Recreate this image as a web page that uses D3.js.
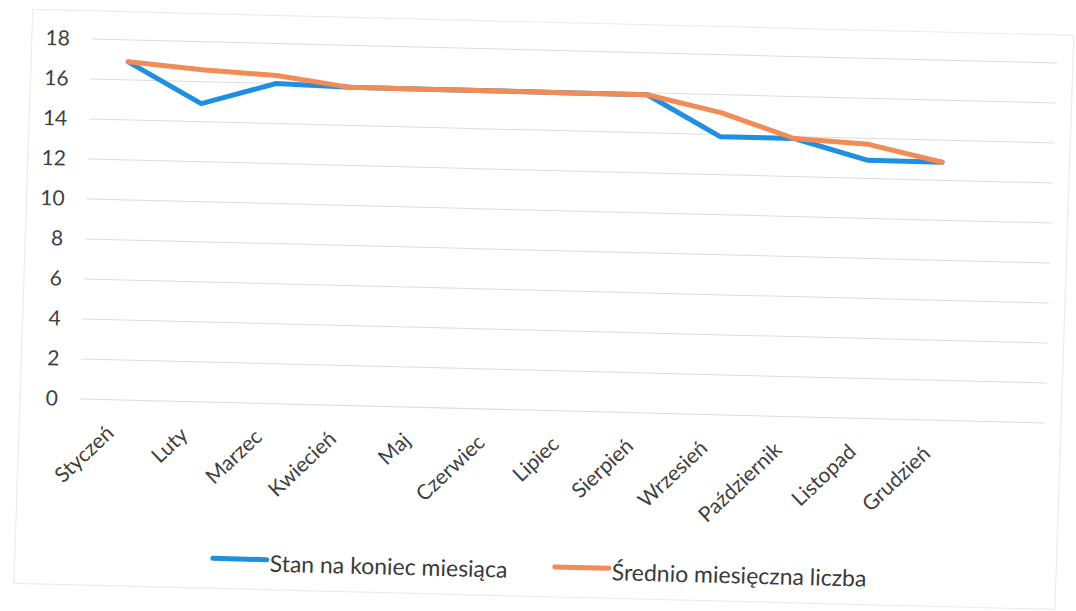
<!DOCTYPE html>
<html>
<head>
<meta charset="utf-8">
<script src="https://cdn.jsdelivr.net/npm/d3@7"></script>
<style>
  html, body { margin: 0; padding: 0; background: #ffffff; }
  svg { display: block; }
  text { font-family: Lato, "Open Sans", sans-serif; }
</style>
</head>
<body>
<svg id="chart" width="1076" height="611"></svg>
<script>
// ---- data ----
const categories = ["Styczeń", "Luty", "Marzec", "Kwiecień", "Maj", "Czerwiec", "Lipiec",
                    "Sierpień", "Wrzesień", "Październik", "Listopad", "Grudzień"];
const stanNaKoniec = [16.9, 14.9, 16.0, 15.9, 15.9, 15.9, 15.9, 15.9, 13.9, 13.9, 12.9, 12.9];
const srednioMiesiecznie = [16.9, 16.6, 16.4, 15.9, 15.9, 15.9, 15.9, 15.9, 15.1, 13.9, 13.7, 12.9];
const yTicks = [0, 2, 4, 6, 8, 10, 12, 14, 16, 18];
const seriesNames = ["Stan na koniec miesiąca", "Średnio miesięczna liczba"];
const seriesColors = ["#1f8fe2", "#f28b55"];

// ---- layout ----
const svg = d3.select("#chart");
const ox = 85, oy = 399;
// the scanned page is slightly skewed; reproduce with an affine transform
const page = svg.append("g")
  .attr("transform", `translate(${ox},${oy}) matrix(1,0.025,-0.033,1,0,0) translate(${-ox},${-oy})`);

// chart frame
page.append("rect")
  .attr("x", 20).attr("y", 11).attr("width", 1041).attr("height", 574)
  .attr("fill", "none").attr("stroke", "#ececec").attr("stroke-width", 1.2);

const x = d3.scaleBand().domain(categories.concat([""])).range([80, 1045]).padding(0);
const y = d3.scaleLinear().domain([0, 18]).range([oy, 39]);
const cx = c => x(c) + x.bandwidth() / 2;

// gridlines
page.append("g").selectAll("line").data(yTicks).join("line")
  .attr("x1", 80).attr("x2", 1045)
  .attr("y1", d => y(d)).attr("y2", d => y(d))
  .attr("stroke", "#dcdcdc").attr("stroke-width", 1);

// y axis labels
const yAxis = d3.axisLeft(y).tickValues(yTicks).tickSize(0).tickPadding(0);
const yg = page.append("g").attr("transform", "translate(58,0)").call(yAxis);
yg.select(".domain").remove();
yg.selectAll("text")
  .attr("font-family", "Lato, 'Open Sans', sans-serif")
  .attr("font-size", 21).attr("fill", "#404040");

// x labels
page.append("g").selectAll("text").data(categories).join("text")
  .attr("transform", d => `translate(${cx(d) - 1},434) rotate(-45)`)
  .attr("text-anchor", "end")
  .attr("font-size", 21).attr("fill", "#404040")
  .text(d => d);

// lines
const line = d3.line().x((d, i) => cx(categories[i])).y(d => y(d));
[stanNaKoniec, srednioMiesiecznie].forEach((s, k) => {
  page.append("path").datum(s)
    .attr("d", line)
    .attr("fill", "none")
    .attr("stroke", seriesColors[k])
    .attr("stroke-width", 5)
    .attr("stroke-linejoin", "round")
    .attr("stroke-linecap", "round");
});

// legend
const legendX = [218, 560];
const legend = page.append("g");
seriesNames.forEach((name, k) => {
  legend.append("line")
    .attr("x1", legendX[k]).attr("x2", legendX[k] + 54)
    .attr("y1", 555).attr("y2", 555)
    .attr("stroke", seriesColors[k]).attr("stroke-width", 5)
    .attr("stroke-linecap", "round");
  legend.append("text")
    .attr("x", legendX[k] + 57).attr("y", 567)
    .attr("font-size", 23).attr("fill", "#3a3a3a")
    .text(name);
});
</script>
</body>
</html>
